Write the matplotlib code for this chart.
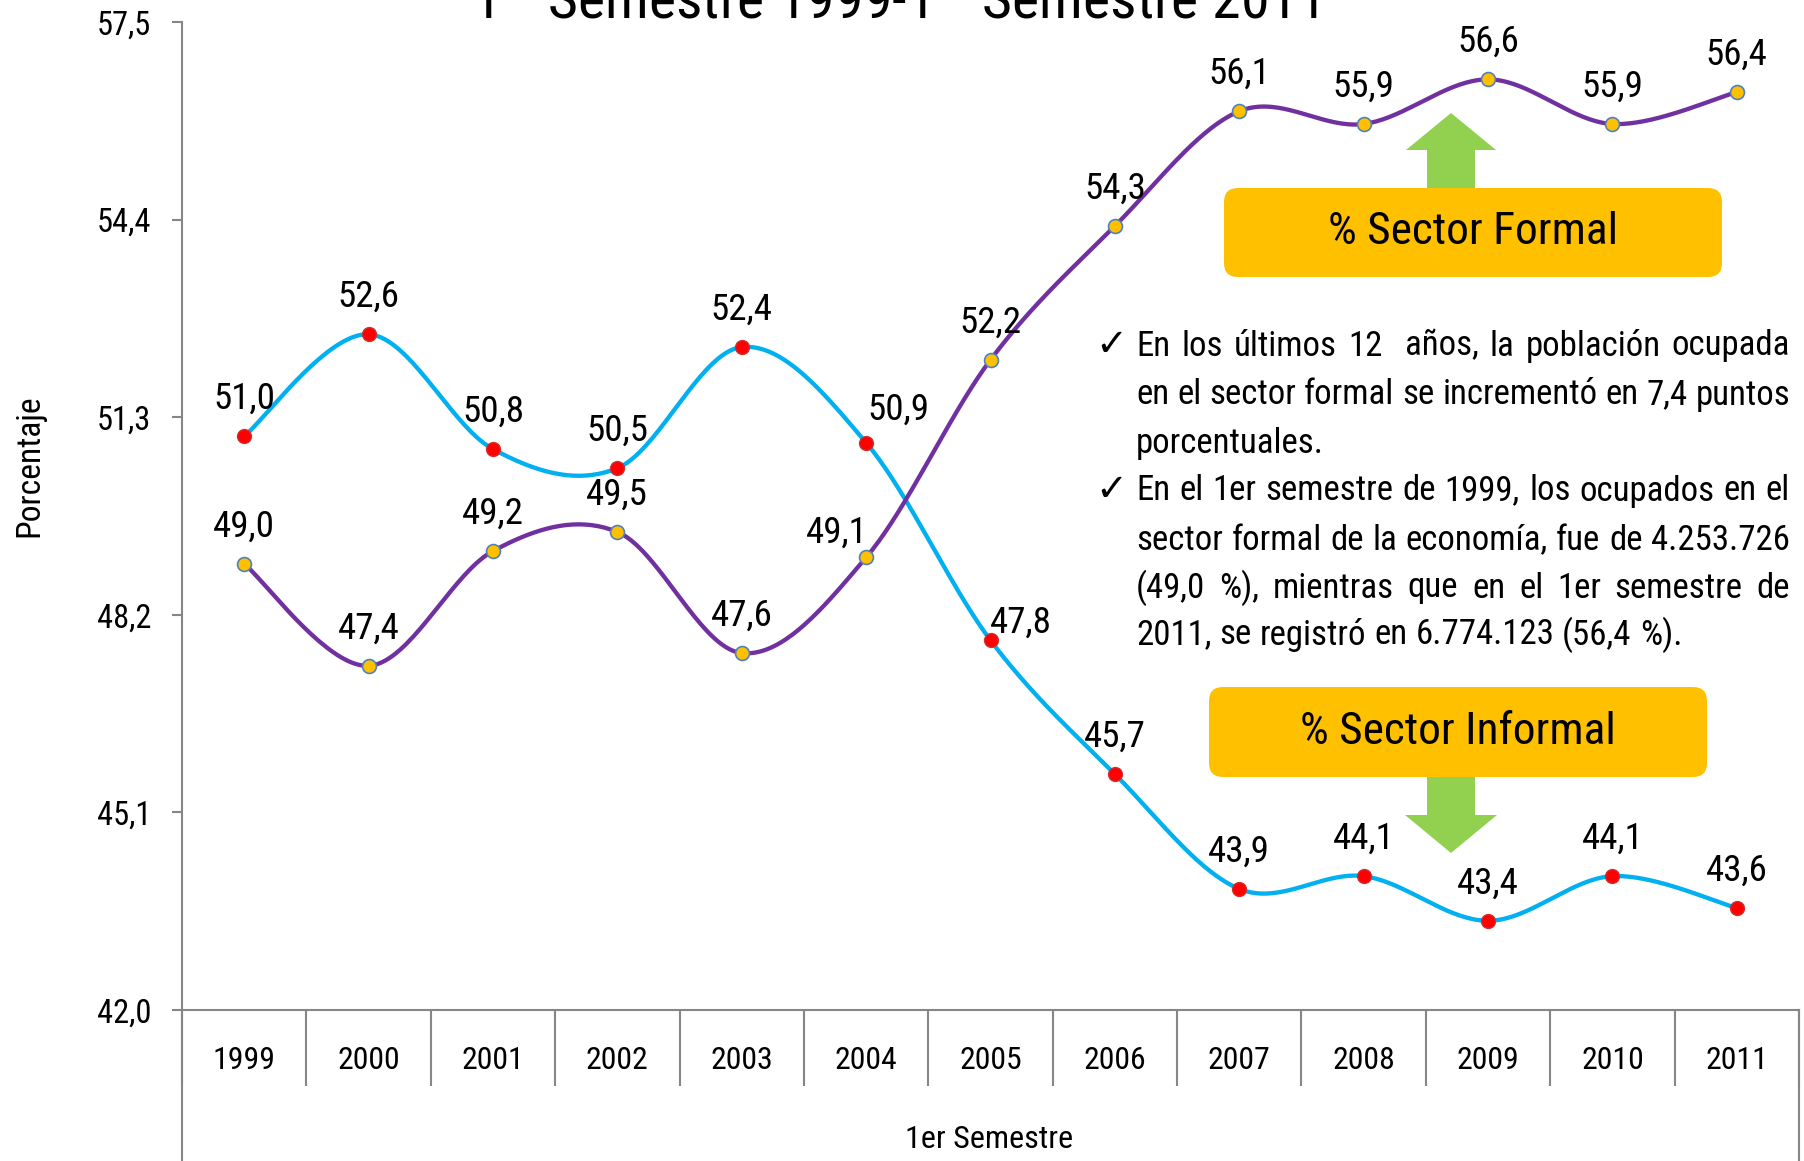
import numpy as np
import matplotlib
matplotlib.use("Agg")
import matplotlib.pyplot as plt
from matplotlib import font_manager
from matplotlib.patches import FancyBboxPatch, Polygon
from matplotlib.transforms import IdentityTransform

# ---------------- data ----------------
years = ["1999", "2000", "2001", "2002", "2003", "2004", "2005",
         "2006", "2007", "2008", "2009", "2010", "2011"]
informal = [51.0, 52.6, 50.8, 50.5, 52.4, 50.9, 47.8, 45.7, 43.9, 44.1, 43.4, 44.1, 43.6]
formal = [49.0, 47.4, 49.2, 49.5, 47.6, 49.1, 52.2, 54.3, 56.1, 55.9, 56.6, 55.9, 56.4]
yticks = [42.0, 45.1, 48.2, 51.3, 54.4, 57.5]

title = r"1$^{\mathrm{er}}$ Semestre 1999-1$^{\mathrm{er}}$ Semestre 2011"
ylabel = "Porcentaje"
xlabel = "1er Semestre"
box_formal = "% Sector Formal"
box_informal = "% Sector Informal"
para1 = ["En los últimos 12  años, la población ocupada",
         "en el sector formal se incrementó en 7,4 puntos",
         "porcentuales."]
para2 = ["En el 1er semestre de 1999, los ocupados en el",
         "sector formal de la economía, fue de 4.253.726",
         "(49,0 %), mientras que en el 1er semestre de",
         "2011, se registró en 6.774.123 (56,4 %)."]

# ---------------- fonts ----------------
names = {f.name for f in font_manager.fontManager.ttflist}
candidates = ["Liberation Sans Narrow", "Arial Narrow", "Roboto Condensed", "Archivo Narrow",
              "PT Sans Narrow", "Open Sans Condensed", "Fira Sans Condensed",
              "IBM Plex Sans Condensed", "Encode Sans Condensed", "Sofia Sans Condensed",
              "Asap Condensed", "Barlow Semi Condensed", "Pragati Narrow", "DejaVu Sans"]
FONT = next(c for c in candidates if c in names)
plt.rcParams["font.family"] = [FONT, "DejaVu Sans"]
plt.rcParams["mathtext.fontset"] = "custom"
plt.rcParams["mathtext.rm"] = FONT
plt.rcParams["mathtext.it"] = FONT

W, H = 1804, 1161
GRAY = "#868686"
fig = plt.figure(figsize=(W / 100, H / 100), dpi=100)
renderer = fig.canvas.get_renderer()
ID = IdentityTransform()


def width_px(s, fs):
    t = fig.text(0, 0, s, fontsize=fs, transform=ID)
    w = t.get_window_extent(renderer).width
    t.remove()
    return w


def fit(s, target):
    return 100.0 * target / width_px(s, 100)


K = 1.05
FS_label = fit("51,0", 59) * K
FS_tick = fit("57,5", 52) * K
FS_year = fit("1999", 60) * K
FS_box = fit(box_formal, 290)
FS_body = fit(para2[3], 547)
FS_title = fit(title, 845)
FS_ylab = fit(ylabel, 143)
FS_xlab = fit(xlabel, 168)

ax = fig.add_axes([182 / W, 151 / H, (1799 - 182) / W, (1010 - 22) / H])


def smooth(yv, n=40):
    x = np.arange(len(yv), dtype=float)
    P = np.column_stack([x, np.asarray(yv, float)])
    Pe = np.vstack([P[0], P, P[-1]])
    out = []
    t = np.linspace(0, 1, n)[:, None]
    for i in range(len(P) - 1):
        p0, p3 = P[i], P[i + 1]
        c1 = p0 + (Pe[i + 2] - Pe[i]) / 6
        c2 = p3 - (Pe[i + 3] - Pe[i + 1]) / 6
        seg = (1 - t) ** 3 * p0 + 3 * (1 - t) ** 2 * t * c1 + 3 * (1 - t) * t ** 2 * c2 + t ** 3 * p3
        out.append(seg if i == 0 else seg[1:])
    return np.vstack(out)


xs = np.arange(len(years))
si = smooth(informal)
sf = smooth(formal)
ax.plot(si[:, 0], si[:, 1], color="#00B0F0", lw=3.1, zorder=2)
ax.plot(sf[:, 0], sf[:, 1], color="#7030A0", lw=3.1, zorder=2)
ax.plot(xs, informal, "o", ms=10, mfc="#FF0000", mec="#D03030", mew=1, zorder=3)
ax.plot(xs, formal, "o", ms=10, mfc="#FFC000", mec="#4F81BD", mew=1.2, zorder=3)

default_off = (0, 27)
off_inf = {5: (23, 24), 6: (22, 13)}
off_for = {5: (-21, 18)}
for i, v in enumerate(informal):
    ax.annotate(f"{v:.1f}".replace(".", ","), (i, v), xytext=off_inf.get(i, default_off),
                textcoords="offset points", ha="center", va="center", fontsize=FS_label, zorder=4)
for i, v in enumerate(formal):
    ax.annotate(f"{v:.1f}".replace(".", ","), (i, v), xytext=off_for.get(i, default_off),
                textcoords="offset points", ha="center", va="center", fontsize=FS_label, zorder=4)

ax.set_xlim(-0.5, 12.5)
ax.set_ylim(42.0, 57.5)
for s in ["top", "right"]:
    ax.spines[s].set_visible(False)
for s in ["left", "bottom"]:
    ax.spines[s].set_color(GRAY)
    ax.spines[s].set_linewidth(1.5)
ax.set_yticks(yticks)
ax.set_yticklabels([f"{v:.1f}".replace(".", ",") for v in yticks])
ax.tick_params(axis="y", length=7, width=1.5, color=GRAY, pad=15, labelsize=FS_tick)
ax.set_xticks(xs)
ax.set_xticklabels([])
ax.tick_params(axis="x", which="major", length=0)
for i, yr in enumerate(years):
    ax.annotate(yr, (i, 0), xycoords=("data", "axes fraction"), xytext=(0, -36.5),
                textcoords="offset points", ha="center", va="center", fontsize=FS_year)
ax.set_xticks(np.arange(-0.5, 13, 1), minor=True)
ax.tick_params(axis="x", which="minor", length=55, width=1.5, color=GRAY, direction="out")
for xx in (0, 1):
    ax.plot([xx, xx], [0, -0.2], transform=ax.transAxes, color=GRAY, lw=1.5, clip_on=False)

fig.text(29, H - 466, ylabel, transform=ID, rotation=90, ha="center", va="center", fontsize=FS_ylab)
fig.text(989, H - 1139, xlabel, transform=ID, ha="center", va="center", fontsize=FS_xlab)
fig.text(895, H - 18, title, transform=ID, ha="center", va="baseline", fontsize=FS_title)


def box(x0, y0, x1, y1, text):
    p = FancyBboxPatch((x0, H - y1), x1 - x0, y1 - y0, boxstyle="round,pad=0,rounding_size=14",
                       transform=ID, fc="#FFC000", ec="none", zorder=5)
    fig.add_artist(p)
    fig.text((x0 + x1) / 2, H - (y0 + y1) / 2, text, transform=ID, ha="center", va="center",
             fontsize=FS_box, zorder=6)


def arrow(pts):
    fig.add_artist(Polygon([(x, H - y) for x, y in pts], closed=True, transform=ID,
                           fc="#92D050", ec="none", zorder=5))


arrow([(1427, 188), (1427, 150), (1406, 150), (1451, 113), (1496, 150), (1475, 150), (1475, 188)])
box(1224, 188, 1722, 277, box_formal)
arrow([(1427, 777), (1427, 815), (1405, 815), (1451, 853), (1497, 815), (1475, 815), (1475, 777)])
box(1209, 687, 1707, 777, box_informal)

# ---------------- justified bullet text ----------------
XL, XR = 1136, 1790
space_w = width_px("a a", FS_body) - width_px("aa", FS_body)


def line(s, y, justify):
    words = s.split(" ")
    widths = [width_px(w, FS_body) if w else 0.0 for w in words]
    gap = space_w
    if justify and len(words) > 1:
        gap = max((XR - XL - sum(widths)) / (len(words) - 1), space_w * 0.6)
    x = XL
    for w, wd in zip(words, widths):
        if w:
            fig.text(x, H - y, w, transform=ID, fontsize=FS_body, va="center", ha="left")
        x += wd + gap


ys = [346, 395, 443, 491, 540, 588, 635]
lines = [(para1[0], True), (para1[1], True), (para1[2], False),
         (para2[0], True), (para2[1], True), (para2[2], True), (para2[3], False)]
for (s, j), y in zip(lines, ys):
    line(s, y, j)
for y in (ys[0], ys[3]):
    fig.text(1111, H - y, "\u2713", transform=ID, fontsize=FS_body * 1.1, ha="center", va="center",
             family=["DejaVu Sans"])

fig.savefig("out.png", dpi=100)
